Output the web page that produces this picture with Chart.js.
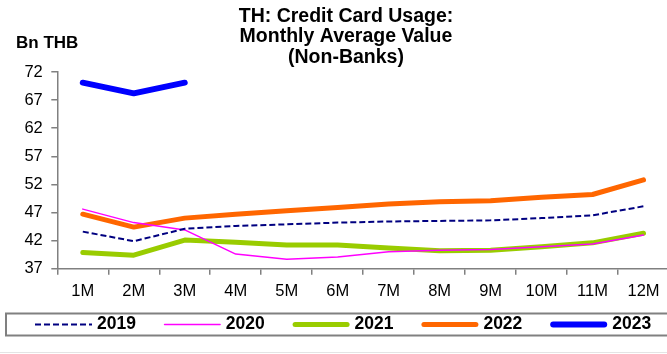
<!DOCTYPE html>
<html>
<head>
<meta charset="utf-8">
<script src="https://cdn.jsdelivr.net/npm/chart.js@4"></script>
<style>
	html, body { margin: 0; padding: 0; background: #fff; overflow: hidden; }
	#wrap { position: relative; width: 667px; height: 354px; overflow: hidden; }
	#box { position: absolute; left: 0; top: 0; width: 672px; height: 354px; }
</style>
</head>
<body>
<div id="wrap"><div id="box"><canvas id="chart"></canvas></div></div>
<script>
const months = ['1M', '2M', '3M', '4M', '5M', '6M', '7M', '8M', '9M', '10M', '11M', '12M'];
const y2019 = [43.6, 41.9, 44.1, 44.6, 44.9, 45.2, 45.4, 45.5, 45.6, 46.0, 46.5, 48.1];
const y2020 = [47.6, 45.2, 43.9, 39.6, 38.7, 39.1, 40.0, 40.3, 40.4, 40.9, 41.4, 43.0];
const y2021 = [39.9, 39.4, 42.1, 41.7, 41.2, 41.2, 40.7, 40.2, 40.3, 40.9, 41.6, 43.3];
const y2022 = [46.7, 44.4, 46.0, 46.7, 47.3, 47.9, 48.5, 48.9, 49.1, 49.7, 50.2, 52.8];
const y2023 = [70.1, 68.2, 70.1];
const yTicks = [37, 42, 47, 52, 57, 62, 67, 72];

const titleLines = ['TH: Credit Card Usage:', 'Monthly Average Value', '(Non-Banks)'];
const unitLabel = 'Bn THB';
const axisGrey = '#808080';
const fontFamily = '"Liberation Sans", Arial, sans-serif';

function series(label, data, color, width, dash) {
	return {
		label: label,
		data: data,
		borderColor: color,
		backgroundColor: color,
		borderWidth: width,
		borderDash: dash,
		borderCapStyle: dash.length ? 'butt' : 'round',
		borderJoinStyle: 'round',
		pointRadius: 0,
		pointHoverRadius: 0,
		tension: 0,
		fill: false
	};
}

// title, unit label and the framed legend row under the plot
const decorations = {
	id: 'decorations',
	afterDraw(chart) {
		const ctx = chart.ctx;
		ctx.save();
		ctx.fillStyle = '#000';
		ctx.textAlign = 'center';
		ctx.textBaseline = 'middle';
		ctx.font = 'bold 19.5px ' + fontFamily;
		titleLines.forEach((t, i) => ctx.fillText(t, 346, 16.5 + i * 20.5));
		ctx.textAlign = 'left';
		ctx.font = 'bold 17px ' + fontFamily;
		ctx.fillText(unitLabel, 16, 43);

		ctx.strokeStyle = axisGrey;
		ctx.lineWidth = 2;
		ctx.strokeRect(6, 313.5, 700, 22);

		ctx.font = 'bold 17.5px ' + fontFamily;
		chart.data.datasets.forEach((ds, i) => {
			const x = 35 + i * 128.8;
			const y = 324.5;
			ctx.save();
			ctx.strokeStyle = ds.borderColor;
			ctx.lineWidth = ds.borderWidth;
			ctx.lineCap = ds.borderCapStyle;
			ctx.setLineDash(ds.borderDash);
			ctx.beginPath();
			ctx.moveTo(x + (ds.borderDash.length ? 0 : ds.borderWidth / 2), y);
			ctx.lineTo(x + 57 - (ds.borderDash.length ? 0 : ds.borderWidth / 2), y);
			ctx.stroke();
			ctx.restore();
			ctx.fillText(ds.label, x + 62, y);
		});

		ctx.strokeStyle = '#e4e4e4';
		ctx.lineWidth = 1;
		ctx.beginPath();
		ctx.moveTo(0, 352.5);
		ctx.lineTo(672, 352.5);
		ctx.stroke();
		ctx.restore();
	}
};

let chart;
document.addEventListener('DOMContentLoaded', function(event) {
	const ctx = document.getElementById('chart').getContext('2d');
	chart = new Chart(ctx, {
		type: 'line',
		data: {
			labels: months,
			datasets: [
				series('2019', y2019, '#000080', 2, [6, 3]),
				series('2020', y2020, '#FF00FF', 1.5, []),
				series('2021', y2021, '#99CC00', 5, []),
				series('2022', y2022, '#FF6600', 5, []),
				series('2023', y2023, '#0000FF', 6, [])
			]
		},
		options: {
			responsive: true,
			maintainAspectRatio: false,
			animation: false,
			events: [],
			layout: { padding: { top: 72, left: 7, right: 3, bottom: 0 } },
			scales: {
				x: {
					offset: true,
					grid: { display: true, offset: true, drawOnChartArea: false, drawTicks: true, tickLength: 6, color: axisGrey, lineWidth: 1.5 },
					border: { color: axisGrey, width: 1.5 },
					ticks: { color: '#000', padding: 7, maxRotation: 0, autoSkip: false, font: { family: fontFamily, size: 16.5 } },
					afterFit(scale) { scale.height = 85.3; }
				},
				y: {
					min: 37,
					max: 72,
					afterBuildTicks(scale) { scale.ticks = yTicks.map(v => ({ value: v })); },
					grid: { display: true, drawOnChartArea: false, drawTicks: true, tickLength: 6, color: axisGrey, lineWidth: 1.5 },
					border: { color: axisGrey, width: 1.5 },
					ticks: { color: '#000', padding: 8.5, autoSkip: false, font: { family: fontFamily, size: 16.5 } },
					afterFit(scale) { scale.width = 50.3; }
				}
			},
			plugins: {
				title: { display: false },
				tooltip: { enabled: false },
				legend: { display: false }
			}
		},
		plugins: [decorations]
	});
});
</script>
</body>
</html>
